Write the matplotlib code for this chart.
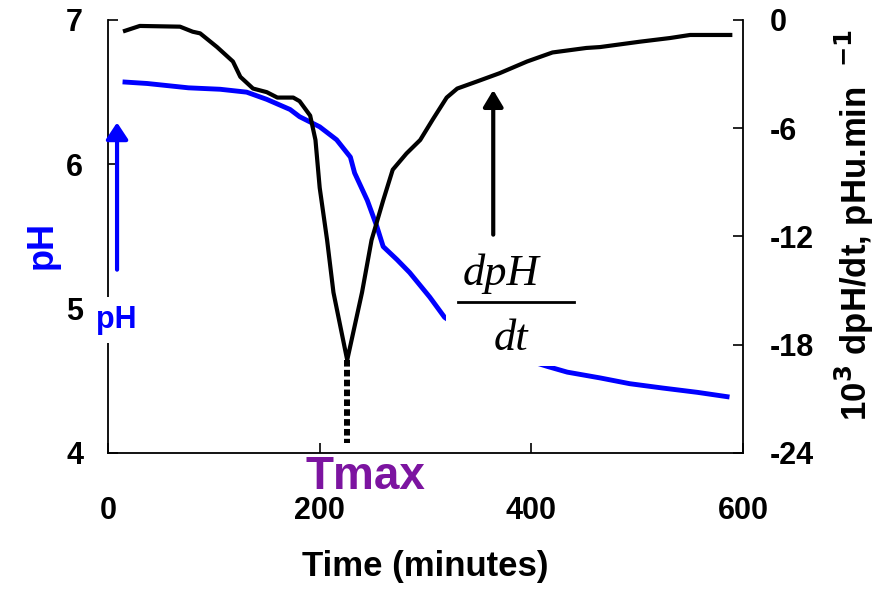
import matplotlib
matplotlib.use('Agg')
import matplotlib.pyplot as plt
from matplotlib.patches import Rectangle

# pH curve, left axis
ph_time  = [16, 37, 76, 106, 131, 150, 172, 181, 200, 216, 229, 233, 245, 254, 260,
            273, 285, 304, 318, 350, 380, 415, 434, 465, 493, 524, 557, 585]
ph_value = [6.57, 6.56, 6.53, 6.52, 6.50, 6.45, 6.38, 6.33, 6.26, 6.17, 6.05, 5.94,
            5.75, 5.57, 5.43, 5.34, 5.25, 5.08, 4.94, 4.78, 4.68, 4.60, 4.56, 4.52,
            4.48, 4.45, 4.42, 4.39]

# dpH/dt curve (x 10^3), right axis
rate_time  = [16, 30, 68, 80, 87, 103, 118, 125, 137, 150, 160, 175, 181, 191, 196,
              200, 207, 213, 226, 240, 249, 260, 269, 282, 295, 307, 320, 330, 349,
              370, 396, 420, 452, 465, 503, 531, 550, 588]
rate_value = [-0.6, -0.33, -0.37, -0.65, -0.74, -1.5, -2.3, -3.15, -3.8, -4.0, -4.3,
              -4.3, -4.5, -5.3, -6.65, -9.3, -12.2, -15.1, -18.85, -15.1, -12.2,
              -10.0, -8.3, -7.4, -6.65, -5.5, -4.3, -3.8, -3.4, -2.95, -2.3, -1.8,
              -1.55, -1.5, -1.2, -1.0, -0.83, -0.83]

tmax = 226
tmax_rate = -18.85

x_ticks  = [0, 200, 400, 600]
ph_ticks = [4, 5, 6, 7]
rate_ticks = [-24, -18, -12, -6, 0]

plt.rcParams['font.family'] = ['Liberation Sans', 'DejaVu Sans']
plt.rcParams['font.weight'] = 'bold'
plt.rcParams['axes.unicode_minus'] = False

fig = plt.figure(figsize=(8.93, 5.95), dpi=100)
ax = fig.add_axes([0.121, 0.2387, 0.711, 0.7277])
ax2 = ax.twinx()

# pH
ax.plot(ph_time, ph_value, color='#0000ff', linewidth=3.5, zorder=2)
ax.set_xlim(0, 600)
ax.set_ylim(4, 7)
ax.set_xticks(x_ticks)
ax.set_yticks(ph_ticks)
ax.spines['top'].set_visible(False)
ax.spines['right'].set_visible(False)
for s in ['left', 'bottom']:
    ax.spines[s].set_linewidth(1.3)
ax.tick_params(axis='x', direction='in', length=7, width=1.2, pad=31, labelsize=22)
ax.tick_params(axis='y', direction='in', length=7, width=1.2, pad=18, labelsize=22)

ax.set_ylabel('pH', color='#0000ff', fontsize=26, fontweight='bold')
ax.yaxis.set_label_coords(-0.0756, 0.48)
ax.set_xlabel('Time (minutes)', fontsize=25, fontweight='bold')
ax.xaxis.set_label_coords(0.5, -0.225)

# white box behind the dpH/dt label
ax.add_patch(Rectangle((319, 4.60), 137, 0.91, facecolor='white', edgecolor='none', zorder=4))

# blue arrow and small pH label
ax.annotate('', xy=(8.5, 6.29), xytext=(8.5, 5.27),
            arrowprops=dict(arrowstyle='-|>,head_length=0.5,head_width=0.33',
                            color='#0000ff', lw=3, shrinkA=0, shrinkB=0,
                            mutation_scale=20), zorder=5)
ax.text(7.6, 4.866, 'pH', color='#0000ff', fontsize=22, fontweight='bold',
        ha='center', va='baseline', zorder=6,
        bbox=dict(boxstyle='square,pad=0.25', facecolor='white', edgecolor='none'))

ax.text(243, 3.75, 'Tmax', color='#7c14a0', fontsize=33, fontweight='bold',
        ha='center', va='baseline', clip_on=False)

# dpH/dt
ax2.plot(rate_time, rate_value, color='black', linewidth=3, zorder=3)
ax2.plot([tmax, tmax], [tmax_rate, -23.45], color='black', linewidth=4.3,
         linestyle=(0, (1.1, 0.55)), dash_capstyle='butt')
ax2.set_ylim(-24, 0)
ax2.set_yticks(rate_ticks)
for s in ['top', 'left', 'bottom']:
    ax2.spines[s].set_visible(False)
ax2.spines['right'].set_linewidth(1.3)
ax2.tick_params(axis='y', direction='in', length=7, width=1.2, pad=19, labelsize=22)

ax2.annotate('', xy=(364, -3.88), xytext=(364, -11.9),
             arrowprops=dict(arrowstyle='-|>,head_length=0.5,head_width=0.3',
                             color='black', lw=3, shrinkA=0, shrinkB=0,
                             mutation_scale=20))

ax2.text(371, -14.69, 'dpH', family='Liberation Serif', style='italic',
         fontweight='normal', fontsize=32, ha='center', va='baseline', zorder=6)
ax2.text(381, -18.29, 'dt', family='Liberation Serif', style='italic',
         fontweight='normal', fontsize=32, ha='center', va='baseline', zorder=6)
ax2.plot([331, 440], [-15.63, -15.63], color='black', linewidth=2, zorder=6)

fig.text(0.957, 0.622, r'10$^{3}$ dpH/dt, pHu.min  $^{-1}$', rotation=90,
         fontsize=25, fontweight='bold', ha='center', va='center')

fig.savefig('out.png', dpi=100)
